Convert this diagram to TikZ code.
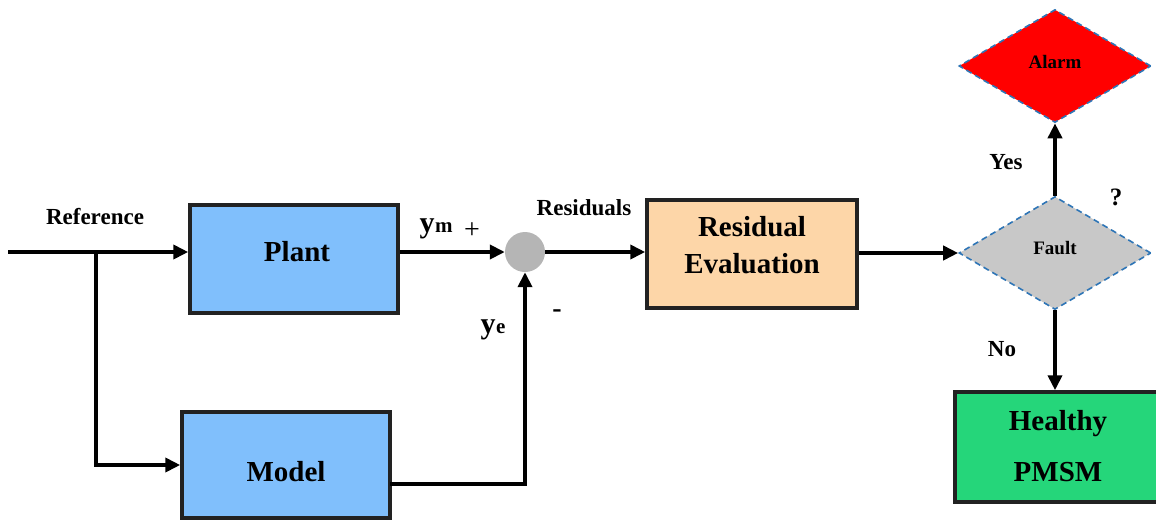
\documentclass[tikz,border=0pt]{standalone}
\usepackage{fontspec}
\setmainfont{Liberation Serif}
\usetikzlibrary{shapes.geometric,arrows.meta}
\definecolor{boxblue}{HTML}{80BFFC}
\definecolor{boxorange}{HTML}{FDD6A8}
\definecolor{boxgreen}{HTML}{25D67A}
\definecolor{edgedark}{HTML}{222222}
\definecolor{dashblue}{HTML}{2E75B6}
\definecolor{sumgray}{HTML}{B5B5B5}
\definecolor{faultgray}{HTML}{C8C8C8}
\tikzset{
  blockbox/.style={draw=edgedark, line width=3.5pt, rectangle, inner sep=0pt},
  blocktext/.style={font=\bfseries\fontsize{29}{37}\selectfont, align=center, inner sep=0pt},
  decision/.style={diamond, draw=dashblue, line width=1.6pt, dash pattern=on 6pt off 4pt,
    minimum width=192pt, minimum height=113pt, aspect=1.7, inner sep=0pt},
  dectext/.style={font=\bfseries\fontsize{19}{22}\selectfont, inner sep=0pt},
  lbl/.style={font=\bfseries\fontsize{23}{26}\selectfont, inner sep=0pt},
  flow/.style={line width=3.8pt, -{Triangle[length=15pt,width=14pt]}},
}
\begin{document}
\begin{tikzpicture}[x=1pt,y=-1pt]
\useasboundingbox (0,0) rectangle (1156,522);
\begin{scope}
\clip (0,0) rectangle (1156,522);
% blocks
\node[blockbox, fill=boxblue, minimum width=208pt, minimum height=108pt] (plant) at (294,259) {};
\node[blocktext] (planttext) at (297,252) {Plant};
\node[blockbox, fill=boxblue, minimum width=208pt, minimum height=106pt] (model) at (286,465) {};
\node[blocktext] (modeltext) at (286,472) {Model};
\node[blockbox, fill=boxorange, minimum width=210pt, minimum height=108pt] (reval) at (752,254) {};
\node[blocktext] (revaltext) at (752,245) {Residual\\Evaluation};
\node[blockbox, fill=boxgreen, minimum width=206pt, minimum height=110pt] (healthy) at (1058,447) {};
\node[blocktext, font=\bfseries\fontsize{29}{51}\selectfont] (healthytext) at (1058,446) {Healthy\\PMSM};
\node[circle, fill=sumgray, minimum size=40pt, inner sep=0pt] (sum) at (525,252) {};
\node[decision, fill=faultgray] (fault) at (1055,253) {};
\node[dectext] (faulttext) at (1055,248) {Fault};
\node[decision, fill=red] (alarm) at (1055,66) {};
\node[dectext] (alarmtext) at (1055,62) {Alarm};
% connectors
\coordinate (start) at (8,252);
\coordinate (branch) at (96,252);
\coordinate (mout) at (390,484);
\draw[flow] (start) -- (start -| plant.west);
\draw[flow] (branch) |- (model.west);
\draw[flow] (sum.west -| plant.east) -- (sum.west);
\draw[flow] (mout) -| (sum.south);
\draw[flow] (sum.east) -- (sum.east -| reval.west);
\draw[flow] (fault.west -| reval.east) -- (fault.west);
\draw[flow] (fault.north) -- (alarm.south);
\draw[flow] (fault.south) -- (healthy.north -| fault.south);
% labels
\node[lbl] (lref) at (95,217) {Reference};
\node[lbl] (lres) at (584,208) {Residuals};
\node[lbl, font=\bfseries\fontsize{30}{30}\selectfont] (lym) at (436,229) {y\kern0.5pt{\fontsize{21}{21}\selectfont m}};
\node[lbl, font=\fontsize{28}{28}\selectfont] (lplus) at (472,231) {+};
\node[lbl, font=\bfseries\fontsize{30}{30}\selectfont] (lye) at (493,330) {y\kern0.5pt{\fontsize{21}{21}\selectfont e}};
\node[lbl, font=\bfseries\fontsize{28}{28}\selectfont] (lminus) at (557,314) {-};
\node[lbl] (lyes) at (1006,162) {Yes};
\node[lbl] (lno) at (1002,349) {No};
\node[lbl, font=\bfseries\fontsize{25}{25}\selectfont] (lq) at (1116,197) {?};
\end{scope}
\end{tikzpicture}
\end{document}
